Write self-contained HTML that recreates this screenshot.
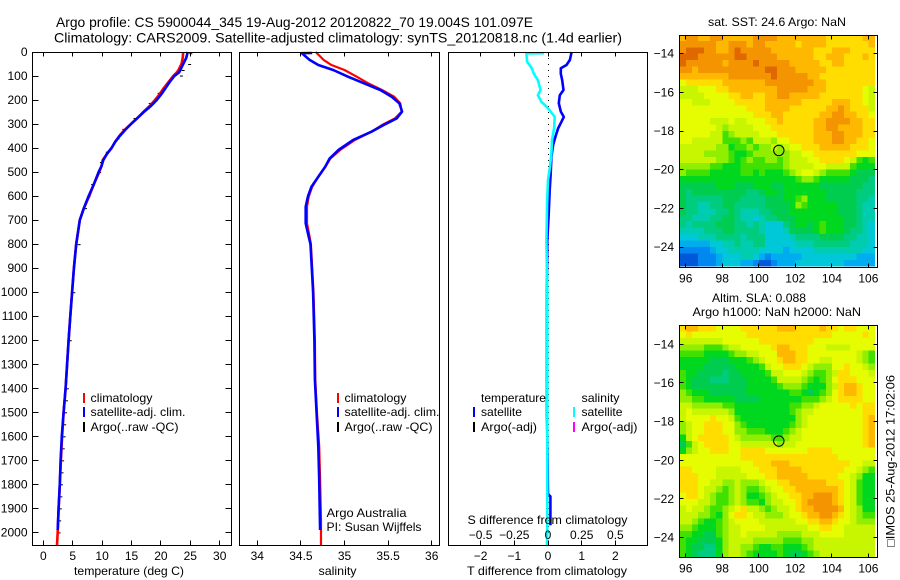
<!DOCTYPE html>
<html>
<head>
<meta charset="utf-8">
<title>Argo profile</title>
<style>
html,body{margin:0;padding:0;background:#fff;}
svg{display:block;}
text{font-family:"Liberation Sans",sans-serif;font-size:12px;fill:#000;}
</style>
</head>
<body>
<svg id="fig" width="900" height="580" viewBox="0 0 900 580" xmlns="http://www.w3.org/2000/svg">
<rect x="0" y="0" width="900" height="580" fill="#fff"/>
<text x="56" y="27" style="font-size:14px" textLength="477" lengthAdjust="spacingAndGlyphs">Argo profile: CS 5900044_345 19-Aug-2012 20120822_70 19.004S 101.097E</text>
<text x="54" y="42.5" style="font-size:14px" textLength="568" lengthAdjust="spacingAndGlyphs">Climatology: CARS2009. Satellite-adjusted climatology: synTS_20120818.nc (1.4d earlier)</text>

<g id="panelT"></g>
<g id="panelS"></g>
<g id="panelD"></g>
<g id="mapA"></g>
<g id="mapB"></g>

<g>
<rect x="83" y="393" width="2" height="10" fill="#f00"/>
<rect x="83" y="407" width="2" height="10" fill="#00f"/>
<rect x="83" y="422" width="2" height="10" fill="#000"/>
<text x="90.5" y="402" textLength="62" lengthAdjust="spacingAndGlyphs">climatology</text>
<text x="90.5" y="416" textLength="95" lengthAdjust="spacingAndGlyphs">satellite-adj. clim.</text>
<text x="90.5" y="431" textLength="88" lengthAdjust="spacingAndGlyphs">Argo(..raw -QC)</text>
</g>
<g>
<rect x="337" y="393" width="2" height="10" fill="#f00"/>
<rect x="337" y="407" width="2" height="10" fill="#00f"/>
<rect x="337" y="422" width="2" height="10" fill="#000"/>
<text x="344.5" y="402" textLength="62" lengthAdjust="spacingAndGlyphs">climatology</text>
<text x="344.5" y="416" textLength="95" lengthAdjust="spacingAndGlyphs">satellite-adj. clim.</text>
<text x="344.5" y="431" textLength="88" lengthAdjust="spacingAndGlyphs">Argo(..raw -QC)</text>
<text x="326.5" y="517" textLength="80" lengthAdjust="spacingAndGlyphs">Argo Australia</text>
<text x="326.5" y="531" textLength="95" lengthAdjust="spacingAndGlyphs">PI: Susan Wijffels</text>
</g>
<g>
<text x="481" y="402" textLength="65" lengthAdjust="spacingAndGlyphs">temperature</text>
<text x="581.5" y="402" textLength="38" lengthAdjust="spacingAndGlyphs">salinity</text>
<rect x="473" y="407" width="2" height="10" fill="#00f"/>
<rect x="473" y="422" width="2" height="10" fill="#000"/>
<rect x="573" y="407" width="2" height="10" fill="#0ff"/>
<rect x="573" y="422" width="2" height="10" fill="#f0f"/>
<text x="481" y="416" textLength="41" lengthAdjust="spacingAndGlyphs">satellite</text>
<text x="481" y="431" textLength="56" lengthAdjust="spacingAndGlyphs">Argo(-adj)</text>
<text x="581.5" y="416" textLength="41" lengthAdjust="spacingAndGlyphs">satellite</text>
<text x="581.5" y="431" textLength="56" lengthAdjust="spacingAndGlyphs">Argo(-adj)</text>
</g>

<text x="74" y="575" textLength="110" lengthAdjust="spacingAndGlyphs">temperature (deg C)</text>
<text x="318.5" y="575" textLength="38" lengthAdjust="spacingAndGlyphs">salinity</text>
<text x="467" y="575" textLength="160" lengthAdjust="spacingAndGlyphs">T difference from climatology</text>
<text x="467.5" y="524" textLength="160" lengthAdjust="spacingAndGlyphs">S difference from climatology</text>

<text x="708" y="26" textLength="138" lengthAdjust="spacingAndGlyphs">sat. SST: 24.6 Argo: NaN</text>
<text x="712" y="302" textLength="94" lengthAdjust="spacingAndGlyphs">Altim. SLA: 0.088</text>
<text x="692.5" y="316" textLength="168.5" lengthAdjust="spacingAndGlyphs">Argo h1000: NaN h2000: NaN</text>
<text x="0" y="0" transform="translate(894.5,547) rotate(-90)" textLength="172" lengthAdjust="spacingAndGlyphs">□IMOS 25-Aug-2012 17:02:06</text>
</svg>

<script>
// ---------- profile data ----------
const tempClimDepths = [0,25,50,75,85,100,125,150,175,200,225,250,275,300,325,350,375,400,425,450,475,500,550,600,650,700,800,900,1000,1100,1200,1300,1400,1500,1600,1700,1800,1900,2000,2053];
const tempClim = [23.8,23.7,23.5,23.0,22.7,22.1,21.3,20.5,19.8,19.0,18.1,17.0,16.0,14.9,13.8,12.9,12.2,11.6,10.8,10.1,9.9,9.5,8.6,7.8,6.9,6.2,5.6,5.2,4.9,4.6,4.3,4.05,3.8,3.45,3.2,3.0,2.8,2.6,2.45,2.33];
const tempSatDepths = [0,25,50,75,85,100,125,150,175,200,225,250,275,300,325,350,375,400,425,450,475,500,550,600,650,700,800,900,1000,1100,1200,1300,1400,1500,1600,1700,1800,1900,1990];
const tempSat = [24.55,24.3,23.8,23.3,23.1,22.3,21.5,20.8,20.1,19.3,18.3,17.1,16.0,14.9,13.9,13.0,12.2,11.6,10.8,10.2,9.9,9.4,8.6,7.7,6.9,6.2,5.6,5.2,4.9,4.6,4.3,4.05,3.8,3.45,3.15,2.95,2.8,2.6,2.45];
const argoDepths = [5,50,75,98,145,170,195,212,235,275,320,360,415,458,500,550,600,650,800,1000,1200,1400,1450,1500,1550,1600,1650,1700,1750,1800,1850,1900,1950,2000];
const argoTemp = [25.0,24.8,23.7,23.4,20.6,19.6,19.0,18.1,17.7,15.5,13.6,12.6,10.8,9.8,9.5,8.3,7.7,7.1,6.0,5.1,4.5,4.0,3.85,3.7,3.55,3.45,3.3,3.2,3.1,3.0,2.9,2.8,2.7,2.6];

const salClimDepths = [0,33,54,75,103,130,158,186,214,248,276,304,332,366,408,443,477,519,561,602,644,713,769,800,1000,1200,1365,1504,1642,1781,1950,2053];
const salClim = [34.67,34.76,34.85,35.0,35.14,35.27,35.43,35.57,35.64,35.655,35.58,35.43,35.31,35.12,34.95,34.84,34.78,34.70,34.63,34.59,34.57,34.57,34.60,34.615,34.645,34.66,34.665,34.685,34.71,34.72,34.73,34.73];
const salSatDepths = [4,5,33,54,75,103,130,158,186,214,248,276,304,332,366,408,443,477,519,561,602,644,713,769,800,1000,1200,1365,1504,1642,1781,1990];
const salSat = [34.63,34.51,34.60,34.70,34.87,35.04,35.22,35.41,35.54,35.63,35.66,35.60,35.45,35.31,35.10,34.93,34.83,34.78,34.70,34.62,34.58,34.555,34.555,34.59,34.61,34.64,34.655,34.66,34.68,34.70,34.71,34.72];

const diffTDepths = [0,33,54,68,90,118,158,180,213,248,270,290,318,353,388,437,506,576,673,784,1000,1400,1510,1840,1850,1970];
const diffT = [0.7,0.65,0.55,0.38,0.38,0.42,0.46,0.35,0.32,0.38,0.47,0.4,0.3,0.22,0.15,0.1,0.08,0.05,0.02,-0.02,-0.03,-0.03,-0.03,0,0.07,0.07];
const diffSDepths = [5,6,41,68,90,118,158,180,207,228,248,270,318,366,422,478,533,630,784,1000,1400,2000,2053];
const diffS = [-0.03,-0.16,-0.155,-0.12,-0.105,-0.075,-0.055,-0.075,-0.05,-0.01,0.02,0.05,0.045,0.03,0.025,0.015,0,-0.007,-0.012,-0.005,-0.005,-0.005,-0.008];

// ---------- tick data ----------
const depthTicks = [0,100,200,300,400,500,600,700,800,900,1000,1100,1200,1300,1400,1500,1600,1700,1800,1900,2000];
const tempTicks = [0,5,10,15,20,25,30];
const salTicks = [34,34.5,35,35.5,36];
const diffTTicks = [-2,-1,0,1,2];
const diffSTicks = [-0.5,-0.25,0,0.25,0.5];
const diffSLabels = ["-0.5","-0.25","0","0.25","0.5"];
const lonTicks = [96,98,100,102,104,106];
const latTicks = [-14,-16,-18,-20,-22,-24];
const argoLon = 101.097;
const argoLat = -19.004;

// ---------- map data (colour level of every grid cell) ----------
const sstRows = [
[13,14,14,13,13,14,14,13,13,13,13,13,14,14,14,14,13,13,13,13,13,13,13,13,12,12,12,12,12,12,13,13],
[14,14,14,14,14,14,13,13,14,14,14,13,14,14,13,13,13,13,13,12,13,13,13,13,12,12,12,12,12,12,12,13],
[14,15,15,15,14,14,13,13,14,15,14,14,14,14,14,13,13,13,13,13,13,13,12,12,12,13,13,13,12,12,12,12],
[15,15,15,14,14,14,14,14,14,15,15,14,14,14,14,14,13,13,13,13,13,13,12,12,13,13,13,12,12,12,13,12],
[15,14,14,14,14,14,14,13,14,14,14,14,15,14,14,14,14,14,13,13,13,13,13,12,12,13,13,12,12,12,12,12],
[14,14,13,14,14,14,14,14,14,14,14,14,14,14,15,15,14,14,14,13,13,13,13,13,12,12,12,12,12,12,12,12],
[13,13,13,13,13,13,13,13,14,14,14,14,14,14,14,15,14,14,14,14,14,13,13,12,12,12,12,12,12,12,12,12],
[11,12,12,12,12,12,12,13,13,13,13,13,13,13,14,14,14,14,14,14,14,14,13,13,12,12,12,12,12,12,12,12],
[10,10,10,11,11,11,12,12,13,13,13,13,13,13,13,13,14,14,14,14,14,13,13,13,12,12,12,12,12,12,11,10],
[10,10,10,10,11,11,11,11,12,12,13,13,12,12,13,13,14,14,13,13,13,13,13,12,12,12,12,12,12,12,11,10],
[11,11,10,10,10,11,11,11,11,12,12,12,12,12,13,13,13,13,13,13,12,12,12,12,12,13,13,13,12,12,11,10],
[11,11,11,11,11,11,11,11,11,11,11,12,12,12,13,13,13,13,12,12,12,12,12,12,13,13,14,13,12,12,12,10],
[11,11,11,11,11,11,11,11,11,11,11,11,12,12,12,13,13,12,12,12,12,12,12,13,13,14,14,13,13,12,12,11],
[11,11,11,11,11,10,10,10,11,10,10,11,11,11,12,12,13,12,12,12,12,12,13,13,14,14,14,14,13,13,12,12],
[11,11,11,11,11,11,10,9,10,10,10,10,11,11,11,12,12,12,12,12,12,12,13,13,14,14,13,13,13,13,12,12],
[11,11,11,11,11,10,10,8,9,10,10,10,10,11,11,11,12,12,12,12,12,12,13,13,13,14,14,13,13,13,12,12],
[11,11,10,10,10,10,10,8,8,8,9,8,10,10,10,9,11,11,12,12,12,12,13,13,13,14,14,13,13,12,12,11],
[10,10,10,10,10,10,9,9,7,8,8,9,8,9,9,10,9,10,11,11,12,12,12,13,13,13,13,13,12,12,12,11],
[10,10,10,10,9,9,9,9,8,7,7,8,9,9,9,9,9,9,10,10,11,11,12,12,12,12,12,12,12,11,11,11],
[10,10,10,10,10,10,9,9,8,7,8,9,8,8,9,9,8,9,10,10,10,11,11,12,12,12,12,11,10,8,7,8],
[9,9,9,9,9,8,8,7,7,7,8,8,8,8,8,8,8,9,10,10,10,10,11,11,10,10,10,10,8,7,7,7],
[9,8,8,8,8,7,7,7,7,7,8,8,7,8,7,7,7,8,9,10,11,11,10,9,8,8,8,8,7,6,6,6],
[7,7,7,7,7,7,7,7,7,7,7,7,7,7,7,7,7,7,7,8,9,9,8,7,7,7,7,7,6,6,6,5],
[6,6,6,6,6,6,7,7,7,6,6,6,7,7,7,6,6,7,7,7,7,7,7,6,6,6,6,6,6,6,5,5],
[6,5,6,6,6,6,6,6,6,6,6,5,5,6,7,7,6,7,7,7,7,7,7,7,6,6,6,6,6,5,5,5],
[6,5,5,5,5,5,5,6,6,6,5,5,5,5,6,6,6,7,7,8,9,7,7,7,6,6,6,6,6,5,5,4],
[6,5,5,4,4,5,5,6,6,5,5,5,5,5,6,6,6,6,7,9,8,7,7,7,7,7,6,6,6,5,4,4],
[6,5,5,4,4,4,5,5,6,5,4,4,4,5,5,6,6,6,7,7,7,7,7,7,7,7,6,6,6,5,4,4],
[5,5,4,4,4,5,5,6,6,5,4,4,3,4,5,5,6,6,6,7,7,7,7,7,7,7,7,6,6,5,4,4],
[5,4,5,5,5,5,6,6,6,5,5,4,5,4,3,3,3,5,6,7,7,6,7,8,7,7,7,6,6,5,4,3],
[4,4,4,4,5,5,5,6,6,5,5,5,5,4,3,3,3,4,6,6,6,6,7,8,7,7,7,6,5,5,4,3],
[3,3,3,4,4,4,5,5,5,5,4,5,5,5,3,3,3,3,4,5,5,5,5,6,6,6,6,5,5,4,4,3],
[2,2,2,2,2,3,3,4,4,5,4,4,5,5,3,3,3,3,3,4,4,4,5,5,5,5,5,5,4,4,4,3],
[1,1,1,1,1,2,3,3,4,4,4,4,4,3,3,3,3,2,3,3,3,3,4,4,4,4,4,4,4,4,3,3],
[0,0,0,1,1,1,2,3,3,3,4,4,3,2,1,2,2,2,2,2,3,3,3,3,3,3,3,3,3,2,2,2],
[0,0,0,1,1,1,2,3,3,3,2,2,1,0,0,1,2,2,2,3,3,3,3,3,3,3,3,2,2,2,2,2]
];
const slaRows = [
[12,13,13,12,12,12,11,11,11,11,12,12,12,12,12,12,13,13,13,12,12,12,12,13,12,12,11,12,12,11,11,11],
[11,12,11,11,11,11,11,11,11,11,11,12,12,12,12,12,12,12,12,12,12,12,12,12,12,11,11,11,11,11,12,11],
[10,10,10,10,10,10,10,11,11,11,11,11,11,12,12,12,12,12,12,12,12,12,11,11,11,11,11,11,11,11,11,11],
[9,9,9,9,8,8,8,9,10,10,11,11,11,11,11,12,13,13,12,12,12,11,11,11,10,10,10,10,11,11,11,11],
[8,8,8,8,7,7,7,7,8,9,9,10,10,11,11,11,13,13,13,12,12,11,11,11,11,11,11,11,11,10,9,8],
[7,7,7,7,7,6,6,6,7,7,7,8,9,10,11,11,12,13,13,12,12,11,11,10,10,11,11,11,11,10,9,8],
[7,7,7,7,6,6,6,6,6,7,7,7,7,8,10,11,11,12,12,12,11,10,9,9,9,11,11,12,11,11,10,9],
[8,7,7,6,6,6,6,5,6,6,7,7,7,7,8,10,10,11,11,11,10,9,8,8,9,10,12,12,11,11,11,10],
[8,7,6,6,6,5,5,5,6,6,6,7,7,7,7,8,10,10,10,10,9,8,7,8,9,11,12,12,12,11,11,11],
[8,7,6,6,6,6,6,6,6,6,6,7,7,7,7,7,8,9,9,9,8,7,7,7,9,10,12,13,13,12,11,11],
[9,8,7,7,7,6,6,6,6,6,6,7,7,7,7,7,7,7,8,8,7,6,7,8,9,11,12,13,13,12,11,11],
[9,9,8,8,7,7,7,7,7,6,6,6,6,7,7,7,7,7,7,7,8,8,8,9,10,11,12,12,12,12,11,11],
[10,10,9,9,9,9,9,8,8,7,7,7,7,7,7,7,7,7,8,8,9,9,10,11,11,11,11,11,12,11,12,12],
[10,11,10,10,10,10,10,10,9,7,7,7,7,7,7,7,7,7,8,9,10,10,11,11,11,11,11,11,11,11,12,12],
[10,11,11,11,11,12,11,11,10,8,7,7,7,7,7,7,7,7,7,9,10,11,11,11,11,11,11,11,11,11,12,13],
[9,10,11,11,12,12,12,11,11,9,8,7,7,7,7,7,7,7,8,9,10,11,11,11,11,11,11,11,11,11,12,13],
[9,10,11,11,12,12,12,11,11,9,9,8,8,8,7,7,7,8,9,10,11,11,11,11,11,11,11,11,11,11,12,13],
[7,10,11,12,12,12,12,12,11,10,9,9,9,9,9,8,8,9,10,10,11,11,11,11,11,11,11,11,11,11,12,13],
[6,8,10,11,12,12,12,12,11,11,10,10,10,10,10,10,9,10,10,11,11,11,11,11,11,11,11,11,11,11,12,13],
[7,9,10,11,11,12,12,12,11,11,12,12,12,12,11,11,11,11,11,11,11,12,12,12,12,11,11,11,11,11,11,11],
[11,11,11,11,11,11,11,11,11,11,12,12,12,12,12,12,12,12,12,12,12,12,12,12,12,12,11,11,11,11,11,11],
[11,11,11,11,11,11,11,11,11,11,11,11,12,12,12,13,13,13,12,12,12,12,12,12,12,12,12,12,11,11,10,10],
[12,12,11,11,11,11,10,10,10,10,11,11,11,12,12,12,13,13,13,13,12,12,12,12,12,12,12,11,11,10,9,8],
[12,12,12,11,11,11,10,10,10,10,10,11,11,11,12,12,13,13,13,13,13,12,12,12,12,12,11,11,10,9,7,7],
[12,12,12,11,11,10,10,9,9,10,9,9,9,10,11,11,12,12,13,13,13,13,13,13,12,12,12,11,10,8,7,7],
[12,12,12,11,10,10,9,8,9,10,9,8,8,9,10,11,11,12,12,13,13,13,13,13,13,13,12,11,10,8,7,7],
[11,12,12,11,10,9,8,8,9,10,9,7,7,8,9,10,11,11,12,12,13,13,14,14,14,13,12,11,10,8,7,7],
[11,11,11,10,10,9,8,8,9,10,9,8,8,7,9,10,10,11,11,12,13,14,14,14,14,13,12,11,10,8,7,7],
[10,11,10,10,9,8,8,9,10,11,12,10,10,9,8,9,10,10,11,12,13,13,14,14,14,14,13,11,10,9,7,7],
[10,10,10,9,9,8,7,9,11,12,12,11,10,10,9,9,9,10,11,11,12,13,13,14,14,13,12,11,10,9,8,8],
[10,10,9,8,7,7,8,9,10,11,11,11,11,10,10,10,10,10,10,11,11,12,12,13,13,12,11,11,10,9,9,9],
[9,9,8,7,7,7,8,9,10,10,11,11,11,11,10,10,10,10,10,10,10,11,11,12,12,11,11,10,10,10,10,10],
[8,8,7,7,6,6,8,9,10,10,11,10,10,10,10,10,9,9,9,9,10,10,10,11,11,11,11,10,10,10,10,10],
[8,7,7,6,6,6,7,9,10,10,10,10,9,9,9,9,9,8,8,8,9,9,10,10,10,10,10,10,10,10,10,10],
[8,7,6,6,5,5,7,9,10,10,9,9,8,7,7,8,8,7,7,7,8,9,10,10,10,10,10,10,10,10,10,10],
[8,7,6,5,5,5,7,9,10,10,9,8,7,7,7,7,8,7,6,6,7,8,9,10,10,10,10,10,10,10,10,10]
];
const mapColors = ["#0058d8","#0088f0","#00acf0","#00c8d8","#00ccb0","#00cc80","#00cc50","#00d820","#40e000","#90ee00","#c8f600","#e6fc00","#ffdd00","#ffb800","#f49400","#e06800"];

// ---------- axis functions ----------
function yDepth(d){ return 52 + d * 0.2402; }
function xTemp(v){ return 43.3 + v * 5.88; }
function xSal(v){ return 257.3 + (v - 34) * 87.2; }
function xDiffT(v){ return 548 + v * 33.7; }
function xDiffS(v){ return 548 + v * 134.8; }
function snap(v){ return Math.round(v - 0.5) + 0.5; }

const NS = "http://www.w3.org/2000/svg";
function mk(tag, parent, attrs){
  const el = document.createElementNS(NS, tag);
  for (const k in attrs) el.setAttribute(k, attrs[k]);
  parent.appendChild(el);
  return el;
}
function drawFrame(parent, x0, x1, y0, y1){
  const el = mk("rect", parent, {x:x0, y:y0, width:x1-x0, height:y1-y0, fill:"none", stroke:"#000", "stroke-width":1, "shape-rendering":"crispEdges"});
  
  
}
function drawTick(parent, x1, y1, x2, y2){
  const el = mk("line", parent, {x1:x1, y1:y1, x2:x2, y2:y2, stroke:"#000", "stroke-width":1, "shape-rendering":"crispEdges"});
  
  
}
function drawLabel(parent, x, y, str, anchor){
  const el = mk("text", parent, {x:x, y:y, "text-anchor":anchor});
  el.textContent = str.replace("-", "\u2212");
  
  
}
function drawProfile(parent, depths, values, xFn, color, width, name){
  const pts = depths.map(function(d, i){ return xFn(values[i]).toFixed(1) + "," + yDepth(d).toFixed(1); }).join(" ");
  const el = mk("polyline", parent, {points:pts, fill:"none", stroke:color, "stroke-width":width, "stroke-linejoin":"round"});
  
  
}

// ---------- temperature panel ----------
const pT = document.getElementById("panelT");
argoDepths.forEach(function(d, i){
  const el = mk("rect", pT, {x:xTemp(argoTemp[i]) - 1, y:yDepth(d), width:3, height:1, fill:"#000"});
  
  
});
drawProfile(pT, tempClimDepths, tempClim, xTemp, "#f00", 2.6, "temperature-climatology-line");
drawProfile(pT, tempSatDepths, tempSat, xTemp, "#00f", 2.6, "temperature-satellite-line");
drawFrame(pT, 32.5, 231.5, 52.5, 545.5);
depthTicks.forEach(function(d){
  const y = snap(yDepth(d));
  drawTick(pT, 32.5, y, 38.5, y);
  drawTick(pT, 225.5, y, 231.5, y);
  drawLabel(pT, 27.5, yDepth(d) + 4, String(d), "end");
});
tempTicks.forEach(function(v){
  const x = snap(xTemp(v));
  drawTick(pT, x, 52.5, x, 56.5);
  drawTick(pT, x, 540.5, x, 545.5);
  drawLabel(pT, xTemp(v), 560, String(v), "middle");
});

// ---------- salinity panel ----------
const pS = document.getElementById("panelS");
drawProfile(pS, salClimDepths, salClim, xSal, "#f00", 2.2, "salinity-climatology-line");
drawProfile(pS, salSatDepths, salSat, xSal, "#00f", 2.6, "salinity-satellite-line");
drawFrame(pS, 239.5, 439.5, 52.5, 545.5);
salTicks.forEach(function(v){
  const x = snap(xSal(v));
  drawTick(pS, x, 52.5, x, 56.5);
  drawTick(pS, x, 540.5, x, 545.5);
  drawLabel(pS, xSal(v), 560, String(v), "middle");
});

// ---------- difference panel ----------
const pD = document.getElementById("panelD");
const zero = mk("line", pD, {x1:548.5, y1:52, x2:548.5, y2:545, stroke:"#000", "stroke-width":1, "stroke-dasharray":"1 5", "shape-rendering":"crispEdges"});


drawProfile(pD, diffTDepths, diffT, xDiffT, "#00f", 2.6, "temperature-difference-line");
drawProfile(pD, diffSDepths, diffS, xDiffS, "#0ff", 2.6, "salinity-difference-line");
drawFrame(pD, 448.5, 647.5, 52.5, 545.5);
diffTTicks.forEach(function(v){
  const x = snap(xDiffT(v));
  drawTick(pD, x, 52.5, x, 56.5);
  drawTick(pD, x, 540.5, x, 545.5);
  drawLabel(pD, xDiffT(v), 560, String(v), "middle");
});
diffSTicks.forEach(function(v, i){
  drawLabel(pD, xDiffS(v), 539, diffSLabels[i], "middle");
});

// ---------- maps ----------
function drawMap(parentId, rows, top, bottom, latY14, name){
  const g = document.getElementById(parentId);
  const xLon = function(lon){ return 685.7 + (lon - 96) * 18.27; };
  const yLat = function(lat){ return latY14 + (-14 - lat) * 19.33; };
  rows.forEach(function(row, j){
    row.forEach(function(level, i){
      const lonW = 95.67 + i / 3;
      const latN = -13.0 - j / 3;
      const x0 = xLon(lonW);
      const y0 = Math.max(yLat(latN), top);
      const y1 = Math.min(yLat(latN - 1 / 3), bottom);
      const el = mk("rect", g, {x:x0.toFixed(2), y:y0.toFixed(2), width:(xLon(lonW + 1 / 3) - x0 + 0.3).toFixed(2), height:(y1 - y0 + 0.3).toFixed(2), fill:mapColors[Math.round(level)], "shape-rendering":"crispEdges"});
      
      
    });
  });
  drawFrame(g, 679.5, 877.5, top + 0.5, bottom + 0.5);
  lonTicks.forEach(function(lon){
    const x = snap(xLon(lon));
    drawTick(g, x, top + 0.5, x, top + 4.5);
    drawTick(g, x, bottom - 3.5, x, bottom + 0.5);
    drawLabel(g, xLon(lon), bottom + 15.5, String(lon), "middle");
  });
  latTicks.forEach(function(lat){
    const y = snap(yLat(lat));
    drawTick(g, 679.5, y, 683.5, y);
    drawTick(g, 873.5, y, 877.5, y);
    drawLabel(g, 674, yLat(lat) + 4, String(lat), "end");
  });
  const c = mk("circle", g, {cx:xLon(argoLon), cy:yLat(argoLat), r:5.2, fill:"none", stroke:"#000", "stroke-width":1});
  
  
}
drawMap("mapA", sstRows, 35, 267, 53.7, "sst");
drawMap("mapB", slaRows, 325, 557, 344.3, "sla");
</script>
</body>
</html>
